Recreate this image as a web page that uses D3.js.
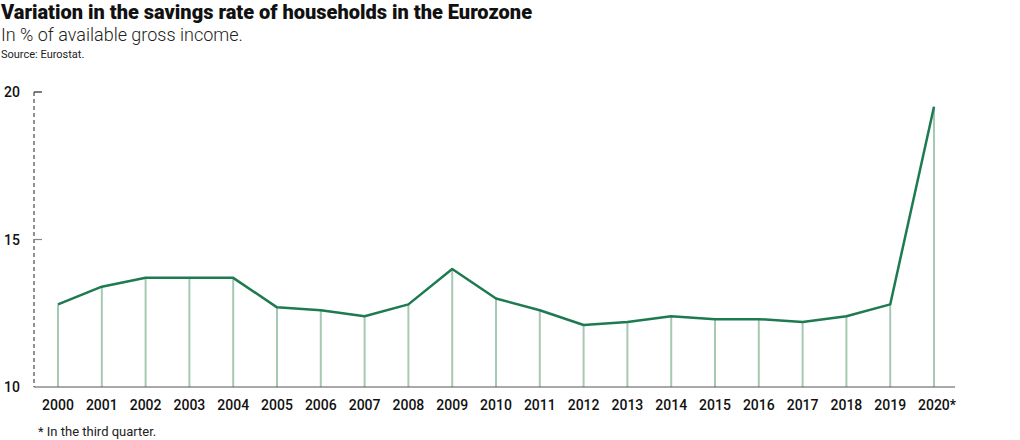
<!DOCTYPE html>
<html lang=en>
<head>
	<meta charset="utf-8">
	<title>savings rate eurozone</title>
	<script src="https://cdn.jsdelivr.net/npm/d3@7"></script>
	<style>
		body { margin: 0; background: #fff; }
		text { font-family: Roboto, "Noto Sans", sans-serif; }
	</style>
</head>
<body>
	<script type="text/javascript">
	var years = ["2000","2001","2002","2003","2004","2005","2006","2007","2008","2009","2010",
		"2011","2012","2013","2014","2015","2016","2017","2018","2019","2020*"];
	var rates = [12.8, 13.4, 13.7, 13.7, 13.7, 12.7, 12.6, 12.4, 12.8, 14.0, 13.0,
		12.6, 12.1, 12.2, 12.4, 12.3, 12.3, 12.2, 12.4, 12.8, 19.5];
	var yTicks = [10, 15, 20];

	var green = '#1e7a50';
	var stemColor = '#a6c9b3';

	var svg = d3.select('body')
				.append('svg')
				.attr('width', 1020)
				.attr('height', 440);

	var x = d3.scalePoint().domain(years).range([58, 934]);
	var y = d3.scaleLinear().domain([10, 20]).range([387, 92]);

	// titles
	svg.append('text')
		.attr('x', 1).attr('y', 19)
		.style('font-size', '20px').style('font-weight', '900')
		.attr('fill', '#111')
		.text('Variation in the savings rate of households in the Eurozone');
	svg.append('text')
		.attr('x', 1).attr('y', 41)
		.style('font-size', '18px').style('font-weight', '300')
		.attr('fill', '#222')
		.text('In % of available gross income.');
	svg.append('text')
		.attr('x', 1).attr('y', 58)
		.style('font-size', '11px')
		.attr('fill', '#222')
		.text('Source: Eurostat.');

	// y axis: dashed line
	svg.append('line')
		.attr('x1', 34).attr('x2', 34)
		.attr('y1', y(20)).attr('y2', y(10))
		.attr('stroke', '#222').attr('stroke-width', 1)
		.attr('stroke-dasharray', '4,3');

	svg.selectAll('.ytick')
		.data(yTicks.filter(function(d){ return d > 10; }))
		.enter()
		.append('line')
		.attr('x1', 34).attr('x2', 42)
		.attr('y1', function(d){ return y(d); })
		.attr('y2', function(d){ return y(d); })
		.attr('stroke', function(d){ return d == 20 ? '#222' : '#888'; })
		.attr('stroke-width', 1.2);

	svg.selectAll('.ylab')
		.data(yTicks)
		.enter()
		.append('text')
		.attr('x', 4)
		.attr('y', function(d){ return y(d) + 5; })
		.style('font-size', '14px').style('font-weight', '500')
		.attr('fill', '#111')
		.text(function(d){ return d; });

	// stems
	svg.selectAll('.stem')
		.data(rates)
		.enter()
		.append('line')
		.attr('x1', function(d, i){ return x(years[i]); })
		.attr('x2', function(d, i){ return x(years[i]); })
		.attr('y1', y(10))
		.attr('y2', function(d){ return y(d); })
		.attr('stroke', stemColor).attr('stroke-width', 2);

	// baseline
	svg.append('line')
		.attr('x1', 34).attr('x2', 955)
		.attr('y1', y(10)).attr('y2', y(10))
		.attr('stroke', '#555').attr('stroke-width', 1.2);

	// line
	var line = d3.line()
		.x(function(d, i){ return x(years[i]); })
		.y(function(d){ return y(d); });

	svg.append('path')
		.datum(rates)
		.attr('d', line)
		.attr('fill', 'none')
		.attr('stroke', green)
		.attr('stroke-width', 2.5)
		.attr('stroke-linejoin', 'round');

	// x labels
	svg.selectAll('.xlab')
		.data(years)
		.enter()
		.append('text')
		.attr('x', function(d){ return x(d) + (d.indexOf('*') > -1 ? 3 : 0); })
		.attr('y', 410)
		.attr('text-anchor', 'middle')
		.style('font-size', '14px').style('font-weight', '500')
		.attr('fill', '#111')
		.text(function(d){ return d; });

	svg.append('text')
		.attr('x', 38).attr('y', 436)
		.style('font-size', '13px')
		.attr('fill', '#222')
		.text('* In the third quarter.');
	</script>
</body>
</html>
